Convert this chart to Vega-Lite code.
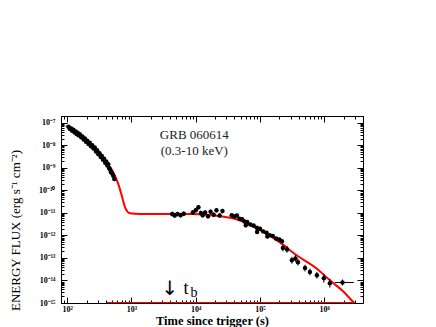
{
  "$schema": "https://vega.github.io/schema/vega-lite/v6.json",
  "width": 302,
  "height": 187,
  "autosize": "none",
  "padding": {"left": 61, "top": 116, "right": 73, "bottom": 24},
  "background": "white",
  "config": {
    "view": {"stroke": "black", "strokeWidth": 1},
    "axis": {"domain": false, "grid": false, "tickColor": "black", "tickWidth": 1, "labelFont": "Liberation Serif", "labelFontWeight": "bold", "labelFontSize": 8, "labelColor": "black", "labelOverlap": false, "labelBound": false, "labelFlush": false, "titleFont": "Liberation Serif", "titleColor": "black"}
  },
  "datasets": {
    "curve": [
      {"t": 96, "f": 7.24e-8}, {"t": 158, "f": 2.75e-8}, {"t": 254, "f": 8.32e-9}, {"t": 364, "f": 2.51e-9},
      {"t": 520, "f": 6.46e-10}, {"t": 622, "f": 1.95e-10}, {"t": 703, "f": 6.03e-11}, {"t": 791, "f": 1.82e-11},
      {"t": 946, "f": 9.6e-12}, {"t": 1355, "f": 9.0e-12}, {"t": 2770, "f": 9.0e-12}, {"t": 9000, "f": 8.91e-12},
      {"t": 20000, "f": 7.59e-12}, {"t": 35000, "f": 6.03e-12}, {"t": 55000, "f": 3.98e-12}, {"t": 80000, "f": 2.4e-12},
      {"t": 112000, "f": 1.45e-12}, {"t": 204000, "f": 4.9e-13}, {"t": 371000, "f": 1.32e-13}, {"t": 759000, "f": 3.39e-14},
      {"t": 1220000, "f": 1.02e-14}, {"t": 1960000, "f": 3.31e-15}, {"t": 2990000, "f": 9.55e-16}, {"t": 4000000, "f": 5.0e-16}
    ],
    "floor": [{"t": 415, "f": 1e-15}, {"t": 3000000, "f": 1e-15}],
    "pts": [
      {"t": 105, "f": 6.6e-8}, {"t": 110, "f": 5.25e-8}, {"t": 115, "f": 5.62e-8}, {"t": 120, "f": 4.37e-8},
      {"t": 125, "f": 4.9e-8}, {"t": 130, "f": 3.72e-8}, {"t": 135, "f": 4.07e-8}, {"t": 140, "f": 3.16e-8},
      {"t": 145, "f": 3.63e-8}, {"t": 150, "f": 2.82e-8}, {"t": 157, "f": 3.09e-8}, {"t": 165, "f": 2.29e-8},
      {"t": 172, "f": 2.45e-8}, {"t": 180, "f": 1.82e-8}, {"t": 188, "f": 2.0e-8}, {"t": 196, "f": 1.45e-8},
      {"t": 205, "f": 1.58e-8}, {"t": 214, "f": 1.15e-8}, {"t": 224, "f": 1.29e-8}, {"t": 234, "f": 9.12e-9},
      {"t": 245, "f": 1.02e-8}, {"t": 256, "f": 7.24e-9}, {"t": 268, "f": 7.94e-9}, {"t": 280, "f": 5.37e-9},
      {"t": 292, "f": 6.03e-9}, {"t": 305, "f": 3.98e-9}, {"t": 318, "f": 4.47e-9}, {"t": 332, "f": 3.02e-9},
      {"t": 346, "f": 3.39e-9}, {"t": 360, "f": 2.29e-9}, {"t": 375, "f": 2.51e-9}, {"t": 390, "f": 1.7e-9},
      {"t": 405, "f": 1.91e-9}, {"t": 420, "f": 1.26e-9}, {"t": 435, "f": 1.45e-9}, {"t": 450, "f": 9.55e-10},
      {"t": 465, "f": 8.32e-10}, {"t": 480, "f": 6.31e-10}, {"t": 500, "f": 5.62e-10}, {"t": 520, "f": 4.47e-10},
      {"t": 540, "f": 3.16e-10},
      {"t": 4300, "f": 8.91e-12, "lo": 7.0e-12, "hi": 1.12e-11},
      {"t": 4700, "f": 7.59e-12, "lo": 6.0e-12, "hi": 9.6e-12},
      {"t": 5200, "f": 8.91e-12, "lo": 7.0e-12, "hi": 1.12e-11},
      {"t": 5800, "f": 7.94e-12, "lo": 6.3e-12, "hi": 1.0e-11},
      {"t": 6500, "f": 9.12e-12, "lo": 7.2e-12, "hi": 1.15e-11},
      {"t": 9000, "f": 1.05e-11, "lo": 8.3e-12, "hi": 1.32e-11},
      {"t": 10000, "f": 1.32e-11, "lo": 1.04e-11, "hi": 1.66e-11},
      {"t": 11000, "f": 1.78e-11, "lo": 1.41e-11, "hi": 2.24e-11},
      {"t": 12000, "f": 1.0e-11, "lo": 7.9e-12, "hi": 1.26e-11},
      {"t": 12800, "f": 7.94e-12, "lo": 6.3e-12, "hi": 1.0e-11},
      {"t": 14000, "f": 1.05e-11, "lo": 8.3e-12, "hi": 1.32e-11},
      {"t": 15500, "f": 7.08e-12, "lo": 5.6e-12, "hi": 8.9e-12},
      {"t": 17000, "f": 1.12e-11, "lo": 8.9e-12, "hi": 1.41e-11},
      {"t": 19000, "f": 8.32e-12, "lo": 6.6e-12, "hi": 1.05e-11},
      {"t": 21000, "f": 1.32e-11, "lo": 1.04e-11, "hi": 1.66e-11},
      {"t": 23500, "f": 7.59e-12, "lo": 6.0e-12, "hi": 9.6e-12},
      {"t": 26000, "f": 1.2e-11, "lo": 9.5e-12, "hi": 1.51e-11},
      {"t": 36300, "f": 7.94e-12, "lo": 6.6e-12, "hi": 9.5e-12},
      {"t": 39800, "f": 6.92e-12, "lo": 5.7e-12, "hi": 8.3e-12},
      {"t": 43600, "f": 7.59e-12, "lo": 6.3e-12, "hi": 9.1e-12},
      {"t": 47900, "f": 5.5e-12, "lo": 4.6e-12, "hi": 6.6e-12},
      {"t": 52500, "f": 5.25e-12, "lo": 4.4e-12, "hi": 6.3e-12},
      {"t": 57500, "f": 4.17e-12, "lo": 3.5e-12, "hi": 5.0e-12},
      {"t": 60000, "f": 2.82e-12, "lo": 2.3e-12, "hi": 3.4e-12},
      {"t": 63100, "f": 3.98e-12, "lo": 3.3e-12, "hi": 4.8e-12},
      {"t": 70800, "f": 3.02e-12, "lo": 2.5e-12, "hi": 3.6e-12},
      {"t": 79400, "f": 2.75e-12, "lo": 2.3e-12, "hi": 3.3e-12},
      {"t": 89100, "f": 2.19e-12, "lo": 1.8e-12, "hi": 2.6e-12},
      {"t": 90000, "f": 1.41e-12, "lo": 1.17e-12, "hi": 1.69e-12},
      {"t": 100000, "f": 2.0e-12, "lo": 1.66e-12, "hi": 2.4e-12},
      {"t": 112000, "f": 1.51e-12, "lo": 1.25e-12, "hi": 1.81e-12},
      {"t": 126000, "f": 1.32e-12, "lo": 1.1e-12, "hi": 1.58e-12},
      {"t": 130000, "f": 8.91e-13, "lo": 7.4e-13, "hi": 1.07e-12},
      {"t": 141000, "f": 1.02e-12, "lo": 8.5e-13, "hi": 1.22e-12},
      {"t": 158000, "f": 9.33e-13, "lo": 7.7e-13, "hi": 1.12e-12},
      {"t": 178000, "f": 7.24e-13, "lo": 6.0e-13, "hi": 8.7e-13},
      {"t": 200000, "f": 6.61e-13, "lo": 5.5e-13, "hi": 7.9e-13},
      {"t": 219000, "f": 5.5e-13, "lo": 4.6e-13, "hi": 6.6e-13},
      {"t": 227000, "f": 2.75e-13, "lo": 1.95e-13, "hi": 3.9e-13},
      {"t": 263000, "f": 2.4e-13, "lo": 1.7e-13, "hi": 3.4e-13},
      {"t": 313000, "f": 7.94e-14, "lo": 5.6e-14, "hi": 1.12e-13},
      {"t": 355000, "f": 9.55e-14, "lo": 6.8e-14, "hi": 1.35e-13},
      {"t": 389000, "f": 6.46e-14, "lo": 4.6e-14, "hi": 9.1e-14},
      {"t": 501000, "f": 3.55e-14, "lo": 2.5e-14, "hi": 5.0e-14},
      {"t": 597000, "f": 2.4e-14, "lo": 1.7e-14, "hi": 3.4e-14},
      {"t": 767000, "f": 1.7e-14, "lo": 1.2e-14, "hi": 2.4e-14},
      {"t": 984000, "f": 1.26e-14, "lo": 8.0e-15, "hi": 2.0e-14},
      {"t": 1220000, "f": 7.59e-15, "lo": 4.8e-15, "hi": 1.2e-14},
      {"t": 1920000, "f": 8.13e-15, "lo": 6.0e-15, "hi": 1.1e-14, "tlo": 1460000, "thi": 2880000}
    ],
    "notes": [
      {"t": 9500, "f": 2.86e-8, "label": "GRB 060614"},
      {"t": 9500, "f": 5.74e-9, "label": "(0.3-10 keV)"}
    ],
    "arrow": [{"t": 3960, "f": 4.1e-15, "label": "↓"}],
    "tlab": [{"t": 7030, "f": 4.1e-15, "label": "t"}],
    "blab": [{"t": 9350, "f": 2.9e-15, "label": "b"}]
  },
  "layer": [
    {
      "data": {"name": "curve"},
      "mark": {"type": "line", "color": "#ff0000", "strokeWidth": 2, "interpolate": "monotone", "clip": true},
      "encoding": {
        "x": {"field": "t", "type": "quantitative",
          "scale": {"type": "log", "domain": [80, 4000000], "nice": false},
          "axis": {"orient": "bottom", "values": [100, 1000, 10000, 100000, 1000000], "tickSize": -6, "labelPadding": 8,
            "labelExpr": "['10²','10³','10⁴','10⁵','10⁶'][round(log(datum.value)/LN10)-2]",
            "title": "Time since trigger (s)", "titleFontSize": 12.5, "titleFontWeight": "bold", "titleY": 21, "titleBaseline": "alphabetic"}},
        "y": {"field": "f", "type": "quantitative",
          "scale": {"type": "log", "domain": [1e-15, 2e-7], "nice": false},
          "axis": {"orient": "left", "values": [1e-15, 1e-14, 1e-13, 1e-12, 1e-11, 1e-10, 1e-9, 1e-8, 1e-7], "tickSize": -6, "labelPadding": 12,
            "labelExpr": "['10⁻¹⁵','10⁻¹⁴','10⁻¹³','10⁻¹²','10⁻¹¹','10⁻¹⁰','10⁻⁹','10⁻⁸','10⁻⁷'][round(log(datum.value)/LN10)+15]",
            "title": "ENERGY FLUX (erg s⁻¹ cm⁻²)", "titleFontSize": 13, "titleFontWeight": "normal", "titleX": -46, "titleY": 114, "titleBaseline": "middle", "titleAngle": -90, "titleAlign": "center"}}
      }
    },
    {
      "data": {"name": "pts"},
      "mark": {"type": "circle", "size": 20, "color": "black", "opacity": 1},
      "encoding": {
        "x": {"field": "t", "type": "quantitative",
          "axis": {"orient": "bottom", "values": [80, 90, 200, 300, 400, 500, 600, 700, 800, 900, 2000, 3000, 4000, 5000, 6000, 7000, 8000, 9000, 20000, 30000, 40000, 50000, 60000, 70000, 80000, 90000, 200000, 300000, 400000, 500000, 600000, 700000, 800000, 900000, 2000000, 3000000], "tickSize": -3, "labels": false, "title": null}},
        "y": {"field": "f", "type": "quantitative",
          "axis": {"orient": "left", "values": [2e-15, 3e-15, 4e-15, 5e-15, 6e-15, 7e-15, 8e-15, 9e-15, 2e-14, 3e-14, 4e-14, 5e-14, 6e-14, 7e-14, 8e-14, 9e-14, 2e-13, 3e-13, 4e-13, 5e-13, 6e-13, 7e-13, 8e-13, 9e-13, 2e-12, 3e-12, 4e-12, 5e-12, 6e-12, 7e-12, 8e-12, 9e-12, 2e-11, 3e-11, 4e-11, 5e-11, 6e-11, 7e-11, 8e-11, 9e-11, 2e-10, 3e-10, 4e-10, 5e-10, 6e-10, 7e-10, 8e-10, 9e-10, 2e-9, 3e-9, 4e-9, 5e-9, 6e-9, 7e-9, 8e-9, 9e-9, 2e-8, 3e-8, 4e-8, 5e-8, 6e-8, 7e-8, 8e-8, 9e-8, 2e-7], "tickSize": -3, "labels": false, "title": null}}
      }
    },
    {
      "data": {"name": "pts"},
      "transform": [{"filter": "isValid(datum.lo)"}],
      "mark": {"type": "rule", "color": "black", "strokeWidth": 1},
      "encoding": {
        "x": {"field": "t", "type": "quantitative",
          "axis": {"orient": "top", "values": [100, 1000, 10000, 100000, 1000000], "tickSize": -6, "labels": false, "title": null}},
        "y": {"field": "lo", "type": "quantitative",
          "axis": {"orient": "right", "values": [1e-15, 1e-14, 1e-13, 1e-12, 1e-11, 1e-10, 1e-9, 1e-8, 1e-7], "tickSize": -6, "labels": false, "title": null}},
        "y2": {"field": "hi"}
      }
    },
    {
      "data": {"name": "pts"},
      "transform": [{"filter": "isValid(datum.tlo)"}],
      "mark": {"type": "rule", "color": "black", "strokeWidth": 1},
      "encoding": {
        "x": {"field": "tlo", "type": "quantitative",
          "axis": {"orient": "top", "values": [80, 90, 200, 300, 400, 500, 600, 700, 800, 900, 2000, 3000, 4000, 5000, 6000, 7000, 8000, 9000, 20000, 30000, 40000, 50000, 60000, 70000, 80000, 90000, 200000, 300000, 400000, 500000, 600000, 700000, 800000, 900000, 2000000, 3000000], "tickSize": -3, "labels": false, "title": null}},
        "x2": {"field": "thi"},
        "y": {"field": "f", "type": "quantitative",
          "axis": {"orient": "right", "values": [2e-15, 3e-15, 4e-15, 5e-15, 6e-15, 7e-15, 8e-15, 9e-15, 2e-14, 3e-14, 4e-14, 5e-14, 6e-14, 7e-14, 8e-14, 9e-14, 2e-13, 3e-13, 4e-13, 5e-13, 6e-13, 7e-13, 8e-13, 9e-13, 2e-12, 3e-12, 4e-12, 5e-12, 6e-12, 7e-12, 8e-12, 9e-12, 2e-11, 3e-11, 4e-11, 5e-11, 6e-11, 7e-11, 8e-11, 9e-11, 2e-10, 3e-10, 4e-10, 5e-10, 6e-10, 7e-10, 8e-10, 9e-10, 2e-9, 3e-9, 4e-9, 5e-9, 6e-9, 7e-9, 8e-9, 9e-9, 2e-8, 3e-8, 4e-8, 5e-8, 6e-8, 7e-8, 8e-8, 9e-8, 2e-7], "tickSize": -3, "labels": false, "title": null}}
      }
    },
    {
      "data": {"name": "floor"},
      "mark": {"type": "line", "color": "#ff0000", "strokeWidth": 2, "clip": true},
      "encoding": {
        "x": {"field": "t", "type": "quantitative", "axis": null},
        "y": {"field": "f", "type": "quantitative", "axis": null}
      }
    },
    {
      "data": {"name": "notes"},
      "mark": {"type": "text", "font": "Liberation Serif", "fontSize": 13, "color": "#222222", "align": "center", "baseline": "middle"},
      "encoding": {
        "x": {"field": "t", "type": "quantitative", "axis": null},
        "y": {"field": "f", "type": "quantitative", "axis": null},
        "text": {"field": "label"}
      }
    },
    {
      "data": {"name": "arrow"},
      "mark": {"type": "text", "font": "DejaVu Sans", "fontSize": 20, "color": "black", "align": "center", "baseline": "middle"},
      "encoding": {
        "x": {"field": "t", "type": "quantitative", "axis": null},
        "y": {"field": "f", "type": "quantitative", "axis": null},
        "text": {"field": "label"}
      }
    },
    {
      "data": {"name": "tlab"},
      "mark": {"type": "text", "font": "Liberation Serif", "fontSize": 18, "color": "black", "align": "center", "baseline": "middle"},
      "encoding": {
        "x": {"field": "t", "type": "quantitative", "axis": null},
        "y": {"field": "f", "type": "quantitative", "axis": null},
        "text": {"field": "label"}
      }
    },
    {
      "data": {"name": "blab"},
      "mark": {"type": "text", "font": "Liberation Serif", "fontSize": 14, "color": "black", "align": "center", "baseline": "middle"},
      "encoding": {
        "x": {"field": "t", "type": "quantitative", "axis": null},
        "y": {"field": "f", "type": "quantitative", "axis": null},
        "text": {"field": "label"}
      }
    }
  ],
  "resolve": {"axis": {"x": "independent", "y": "independent"}}
}
